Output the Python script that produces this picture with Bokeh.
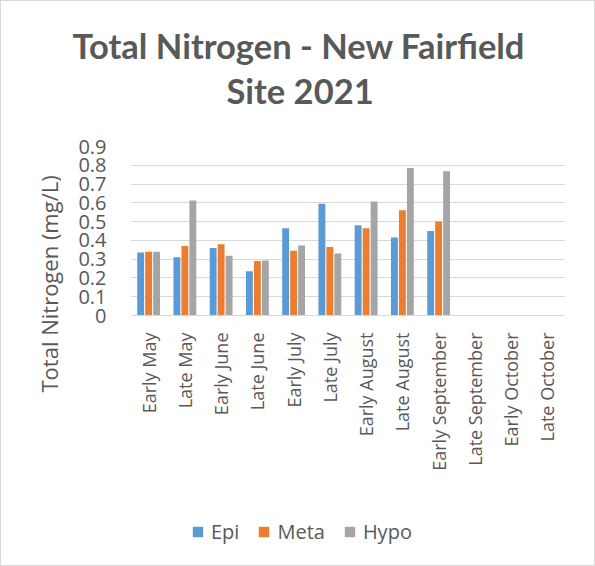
import math
from bokeh.plotting import figure
from bokeh.models import ColumnDataSource, FactorRange, FixedTicker, Title, Legend, LegendItem
from bokeh.transform import dodge
from bokeh.embed import file_html
from bokeh.resources import INLINE

categories = ["Early May", "Late May", "Early June", "Late June", "Early July", "Late July",
              "Early August", "Late August", "Early September", "Late September",
              "Early October", "Late October"]
epi = [0.335, 0.31, 0.36, 0.235, 0.465, 0.595, 0.48, 0.415, 0.45, None, None, None]
meta = [0.34, 0.37, 0.38, 0.29, 0.345, 0.365, 0.465, 0.56, 0.50, None, None, None]
hypo = [0.34, 0.612, 0.318, 0.293, 0.373, 0.33, 0.607, 0.785, 0.768, None, None, None]
series_names = ["Epi", "Meta", "Hypo"]
series_colors = ["#5B9BD5", "#ED7D31", "#A5A5A5"]
y_ticks = [0, 0.1, 0.2, 0.3, 0.4, 0.5, 0.6, 0.7, 0.8, 0.9]
y_tick_labels = ["0", "0.1", "0.2", "0.3", "0.4", "0.5", "0.6", "0.7", "0.8", "0.9"]
title_lines = ["Total Nitrogen - New Fairfield", "Site 2021"]
y_title = "Total Nitrogen (mg/L)"

def clean(v):
    return [float("nan") if x is None else x for x in v]

src = ColumnDataSource(dict(cat=categories, Epi=clean(epi), Meta=clean(meta), Hypo=clean(hypo)))

FONT = "Open Sans"
TFONT = "Lato"
TXT = "#595959"

# The frame reaches the bottom of the chart; the value axis 0..0.9 occupies its upper
# 169 px and the category labels and legend sit below y = 0 inside it.
PLOT_PX = 169.0
FRAME_PX = 419.0
y_min = -0.9 * (FRAME_PX - PLOT_PX) / PLOT_PX

p = figure(frame_width=435, frame_height=int(FRAME_PX),
           x_range=FactorRange(*categories, range_padding=0),
           y_range=(y_min, 0.9), output_backend="svg", toolbar_location=None,
           min_border_left=129, min_border_right=29, min_border_top=145, min_border_bottom=0)
p.outline_line_color = None
p.styles = {"border": "1px solid #d9d9d9"}

renderers = []
for name, col, off in zip(series_names, series_colors, [-0.22, 0.0, 0.22]):
    r = p.vbar(x=dodge("cat", off, range=p.x_range), top=name, bottom=0, width=0.19,
               source=src, fill_color=col, line_color=None)
    renderers.append(r)

# axes
p.xgrid.grid_line_color = None
p.ygrid.grid_line_color = "#d9d9d9"
p.ygrid.grid_line_width = 1
p.yaxis.ticker = FixedTicker(ticks=y_ticks)
p.yaxis.major_label_overrides = {t: l for t, l in zip(y_ticks, y_tick_labels)}
p.yaxis.axis_line_color = None
p.yaxis.major_tick_line_color = None
p.yaxis.minor_tick_line_color = None
p.yaxis.major_tick_in = 0
p.yaxis.major_tick_out = 0
p.yaxis.major_label_standoff = 24
p.yaxis.major_label_text_font = FONT
p.yaxis.major_label_text_font_size = "20px"
p.yaxis.major_label_text_color = TXT

xax = p.xaxis[0]
xax.fixed_location = 0
xax.axis_line_color = "#d9d9d9"
xax.major_tick_line_color = None
xax.minor_tick_line_color = None
xax.major_tick_in = 0
xax.major_tick_out = 0
xax.major_label_orientation = math.pi / 2
xax.major_label_standoff = 17
xax.major_label_text_font = FONT
xax.major_label_text_font_size = "18px"
xax.major_label_text_color = TXT

# y axis title as a side title, ending near the reference's lower end
p.add_layout(Title(text=y_title, align="left", offset=173, standoff=24,
                   text_font=FONT, text_font_size="22px", text_font_style="normal",
                   text_color=TXT), "left")

# chart title: a thin spacer nearest the frame, then the two lines
p.add_layout(Title(text=" ", align="left", standoff=32.5,
                   text_font=TFONT, text_font_size="1px"), "above")
p.add_layout(Title(text=title_lines[1], align="left", offset=96, standoff=0,
                   text_font=TFONT, text_font_size="34.5px", text_font_style="bold",
                   text_color=TXT), "above")
p.add_layout(Title(text=title_lines[0], align="left", offset=-58, standoff=3,
                   text_font=TFONT, text_font_size="34.5px", text_font_style="bold",
                   text_color=TXT), "above")

legend = Legend(items=[LegendItem(label=n, renderers=[r]) for n, r in zip(series_names, renderers)],
                orientation="horizontal", location=(61, 20.5),
                glyph_width=13, glyph_height=13, label_text_font=FONT,
                label_text_font_size="20px", label_text_color=TXT,
                border_line_color=None, background_fill_alpha=0,
                spacing=18, label_standoff=7, padding=0, margin=0)
p.add_layout(legend, "center")

open("out.html", "w").write(file_html(p, INLINE))
